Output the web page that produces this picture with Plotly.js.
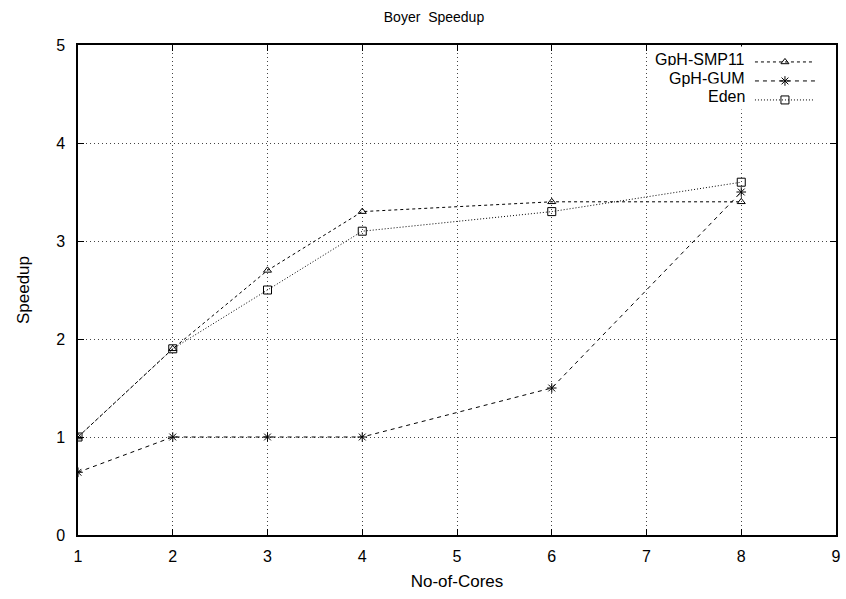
<!DOCTYPE html>
<html><head><meta charset="utf-8">
<script src="https://cdn.plot.ly/plotly-3.0.1.min.js"></script>
<style>body{margin:0;background:#fff}#c{width:846px;height:599px}</style>
</head><body><div id="c"></div>
<script>
const cores = [1, 2, 3, 4, 6, 8];
const smp11 = [1, 1.9, 2.7, 3.3, 3.4, 3.4];
const gum = [0.64, 1, 1, 1, 1.5, 3.5];
const eden = [1, 1.9, 2.5, 3.1, 3.3, 3.6];
const seriesNames = ['GpH-SMP11', 'GpH-GUM', 'Eden'];
const xTicks = [1, 2, 3, 4, 5, 6, 7, 8, 9];
const yTicks = [0, 1, 2, 3, 4, 5];

const traces = [
  {x: cores, y: smp11, name: '', mode: 'lines+markers',
   line: {color: '#000', width: 1, dash: '3px,3px'},
   marker: {symbol: 'triangle-up-open', size: 7, color: '#000', line: {width: 1}}},
  {x: cores, y: gum, name: '', mode: 'lines+markers',
   line: {color: '#000', width: 1, dash: '4px,4px'},
   marker: {symbol: 'asterisk-open', size: 8, color: '#000', line: {width: 1, color: '#000'}}},
  {x: cores, y: eden, name: '', mode: 'lines+markers',
   line: {color: '#000', width: 1, dash: '1px,2px'},
   marker: {symbol: 'square-open', size: 8, color: '#000', line: {width: 1}}}
];

// legend labels drawn right-aligned to the left of the samples (gnuplot style)
const legendRowsY = [0.971, 0.932, 0.894];
const annotations = seriesNames.map((n, i) => ({
  text: n, xref: 'paper', yref: 'paper', x: 0.887, y: legendRowsY[i],
  xanchor: 'right', yanchor: 'middle', showarrow: false,
  bgcolor: '#fff', borderpad: 4, font: {size: 16}
}));

const layout = {
  width: 846, height: 599,
  margin: {l: 78, r: 10, t: 45, b: 64},
  paper_bgcolor: '#fff', plot_bgcolor: '#fff',
  font: {family: 'Liberation Sans, Arial, sans-serif', size: 16, color: '#000'},
  title: {text: 'Boyer  Speedup', x: 0.513, xanchor: 'center', y: 0.972, yanchor: 'middle', font: {size: 14}},
  xaxis: {range: [1, 9], tickvals: xTicks, ticks: 'inside', ticklen: 6, tickcolor: '#000',
    ticklabelstandoff: 6, tickfont: {size: 16},
    showgrid: true, gridcolor: '#444', griddash: '1px,3px', gridwidth: 1,
    showline: true, linecolor: '#000', linewidth: 1.5, mirror: 'ticks', zeroline: false,
    title: {text: 'No-of-Cores', standoff: 11, font: {size: 17}}},
  yaxis: {range: [0, 5], tickvals: yTicks, ticks: 'inside', ticklen: 6, tickcolor: '#000',
    ticklabelstandoff: 8, tickfont: {size: 16},
    showgrid: true, gridcolor: '#444', griddash: '1px,3px', gridwidth: 1,
    showline: true, linecolor: '#000', linewidth: 1.5, mirror: 'ticks', zeroline: false,
    title: {text: 'Speedup', standoff: 22, font: {size: 17}}},
  legend: {x: 0.8865, xanchor: 'left', y: 0.995, yanchor: 'top', bgcolor: '#fff',
    font: {size: 10}, tracegroupgap: 0, itemwidth: 60},
  showlegend: true,
  annotations: annotations
};
Plotly.newPlot('c', traces, layout, {displayModeBar: false});
</script></body></html>
